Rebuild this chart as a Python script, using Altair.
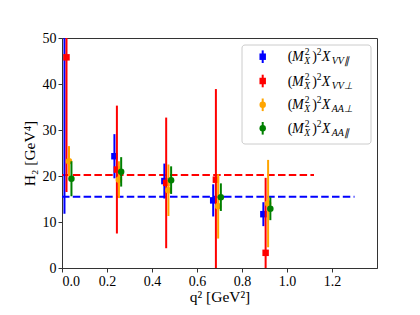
import altair as alt
import pandas as pd

# ---- data ----
series_names = ["VV_par", "VV_perp", "AA_perp", "AA_par"]
series_colors = ["#0000ff", "#ff0000", "#ffa500", "#008000"]
series_shapes = ["square", "square", "circle", "circle"]
legend_subs = ["VV\u2225", "VV\u22a5", "AA\u22a5", "AA\u2225"]

q2_vv_par = [0.011, 0.233, 0.455, 0.672, 0.895]
h2_vv_par = [56.0, 24.3, 18.9, 14.7, 11.7]
err_vv_par = [44.2, 4.8, 3.8, 3.5, 2.6]

q2_vv_perp = [0.020, 0.244, 0.463, 0.684, 0.905]
h2_vv_perp = [45.8, 21.4, 18.5, 19.2, 3.3]
err_vv_perp = [29.3, 13.9, 14.2, 19.7, 16.3]

q2_aa_perp = [0.031, 0.253, 0.473, 0.694, 0.916]
h2_aa_perp = [23.2, 19.2, 16.9, 13.4, 14.0]
err_aa_perp = [3.3, 4.0, 5.6, 7.0, 9.5]

q2_aa_par = [0.042, 0.263, 0.485, 0.706, 0.926]
h2_aa_par = [19.4, 20.9, 19.1, 15.4, 12.9]
err_aa_par = [3.8, 3.2, 3.0, 3.0, 2.5]

ref_levels = [20.2, 15.5]
ref_xmax = [1.12, 1.30]
ref_colors = ["#ff0000", "#0000ff"]

x_ticks = [0.0, 0.2, 0.4, 0.6, 0.8, 1.0, 1.2]
y_ticks = [0, 10, 20, 30, 40, 50]

# ---- build tables ----
all_x = [q2_vv_par, q2_vv_perp, q2_aa_perp, q2_aa_par]
all_y = [h2_vv_par, h2_vv_perp, h2_aa_perp, h2_aa_par]
all_e = [err_vv_par, err_vv_perp, err_aa_perp, err_aa_par]

FONT = "Liberation Serif"
xscale = alt.Scale(domain=[0, 1.4], nice=False, zero=False)
yscale = alt.Scale(domain=[0, 50], nice=False, zero=False)

ref_df = pd.DataFrame({"y": ref_levels, "x0": [0, 0], "x1": ref_xmax, "c": ref_colors})
ref_layer = alt.Chart(ref_df).mark_rule(strokeDash=[7.5, 3.3], strokeWidth=2, clip=True).encode(
    x=alt.X("x0:Q", scale=xscale,
            axis=alt.Axis(values=x_ticks, format=".1f", title="q\u00b2 [GeV\u00b2]", grid=False)),
    x2="x1:Q",
    y=alt.Y("y:Q", scale=yscale,
            axis=alt.Axis(values=y_ticks, format="d", title="H\u2082 [GeV\u2074]", grid=False)),
    color=alt.Color("c:N", scale=None),
)

layers = [ref_layer]
for i, name in enumerate(series_names):
    df = pd.DataFrame({
        "x": all_x[i],
        "y": all_y[i],
        "lo": [a - b for a, b in zip(all_y[i], all_e[i])],
        "hi": [a + b for a, b in zip(all_y[i], all_e[i])],
    })
    base = alt.Chart(df)
    bars = base.mark_rule(strokeWidth=2, clip=True, color=series_colors[i]).encode(
        x=alt.X("x:Q", scale=xscale), y=alt.Y("lo:Q", scale=yscale), y2="hi:Q")
    pts = base.mark_point(shape=series_shapes[i], filled=True, size=42, opacity=1,
                          color=series_colors[i], clip=True).encode(
        x=alt.X("x:Q", scale=xscale), y=alt.Y("y:Q", scale=yscale))
    layers += [bars, pts]

# ---- legend (drawn by hand to get sub/superscripts) ----
one = pd.DataFrame({"a": [0]})
layers.append(alt.Chart(one).mark_rect(fill="white", fillOpacity=0.8, stroke="#cccccc",
                                       strokeWidth=1, cornerRadius=3).encode(
    x=alt.value(180), x2=alt.value(309), y=alt.value(7), y2=alt.value(106)))

row_y = [18.7, 43.0, 66.8, 90.3]
mx = 200.7
tx = 225.7

def txt(s, x, y, size=14, style="normal"):
    return alt.Chart(pd.DataFrame({"t": [s]})).mark_text(
        align="left", baseline="alphabetic", font=FONT, fontSize=size, fontStyle=style,
        color="black").encode(text="t:N", x=alt.value(x), y=alt.value(y))

for i in range(4):
    ry = row_y[i]
    layers.append(alt.Chart(one).mark_rule(strokeWidth=2, color=series_colors[i]).encode(
        x=alt.value(mx), y=alt.value(ry - 6.3), y2=alt.value(ry + 6.3)))
    layers.append(alt.Chart(one).mark_point(shape=series_shapes[i], filled=True, size=42,
                                            opacity=1, color=series_colors[i]).encode(
        x=alt.value(mx), y=alt.value(ry)))
    base_y = ry + 4.5
    layers.append(txt("(", tx, base_y))
    layers.append(txt("M", tx + 4.3, base_y, style="italic"))
    layers.append(txt("2", tx + 17, base_y - 6, size=9.5))
    layers.append(txt("X", tx + 16.5, base_y + 3, size=9.5, style="italic"))
    layers.append(txt(")", tx + 24.5, base_y))
    layers.append(txt("2", tx + 29, base_y - 6, size=9.5))
    layers.append(txt("X", tx + 34, base_y, style="italic"))
    layers.append(txt(legend_subs[i], tx + 44, base_y + 3, size=10, style="italic"))

chart = alt.layer(*layers).properties(
    width=315, height=230,
    autosize=alt.AutoSizeParams(type="none"),
    padding={"left": 54, "top": 30, "right": 27, "bottom": 37},
).configure_view(stroke="#333333", strokeWidth=1).configure_axis(
    labelFont=FONT, labelFontSize=14, labelColor="black",
    titleFont=FONT, titleFontSize=15.5, titleColor="black", titleFontWeight="normal",
    domainColor="#333333", tickColor="#333333", tickSize=4, labelPadding=2,
).configure_axisX(titlePadding=1).configure_axisY(titlePadding=5)

chart.save("out.html", embed_options={"renderer": "svg", "actions": False})
